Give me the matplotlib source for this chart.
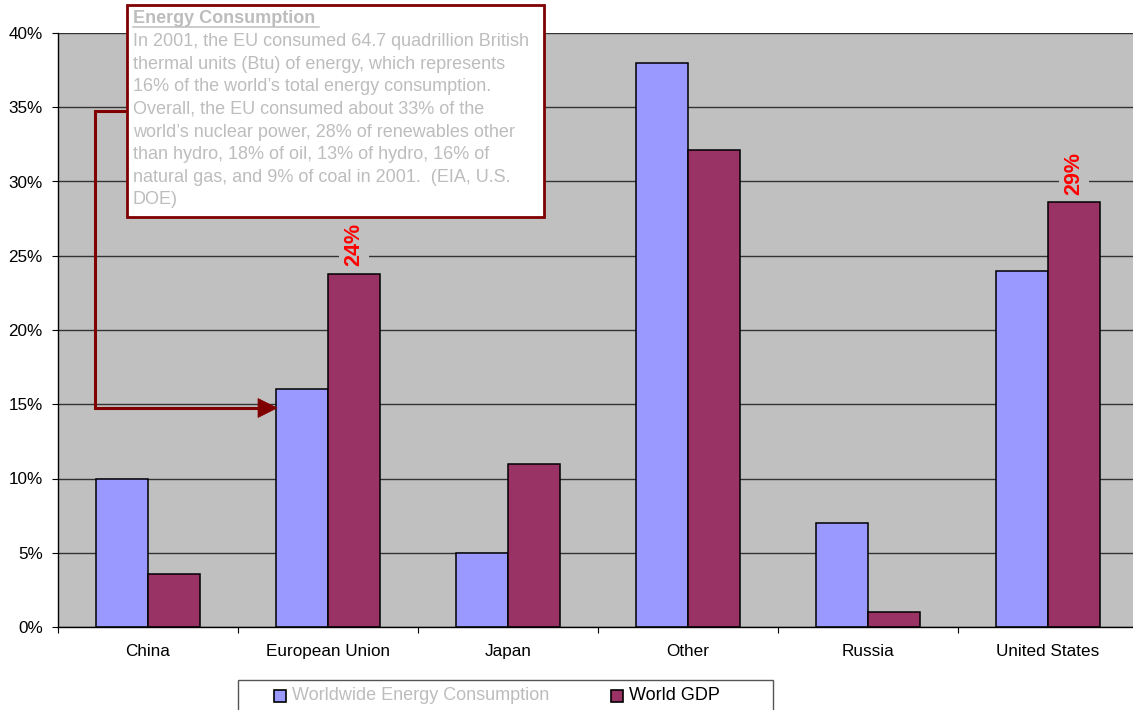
import matplotlib
matplotlib.use("Agg")
import matplotlib.pyplot as plt
from matplotlib.patches import Rectangle, Polygon
from matplotlib.lines import Line2D
import numpy as np

plt.rcParams['font.family'] = ['Liberation Sans', 'DejaVu Sans']

# ---- data ----
regions = ["China", "European Union", "Japan", "Other", "Russia", "United States"]
energy_share = [10.0, 16.0, 5.0, 38.0, 7.0, 24.0]
gdp_share = [3.6, 23.8, 11.0, 32.1, 1.0, 28.6]
series_names = ["Worldwide Energy Consumption", "World GDP"]
labelled_gdp = ["European Union", "United States"]
yticks = list(range(0, 45, 5))

note_title = "Energy Consumption"
note_lines = [
    "In 2001, the EU consumed 64.7 quadrillion British",
    "thermal units (Btu) of energy, which represents",
    "16% of the world\u2019s total energy consumption.",
    "Overall, the EU consumed about 33% of the",
    "world\u2019s nuclear power, 28% of renewables other",
    "than hydro, 18% of oil, 13% of hydro, 16% of",
    "natural gas, and 9% of coal in 2001.  (EIA, U.S.",
    "DOE)",
]

# ---- styling ----
C_ENERGY = "#9999FF"
C_GDP = "#993366"
C_BG = "#C0C0C0"
C_NOTE = "#BDBDBD"
C_DARKRED = "#800000"
FS_TICK = 12.3
FS_NOTE = 13.0
FS_LEG = 13.0

W, H = 1133, 710
fig = plt.figure(figsize=(W / 100, H / 100), dpi=100)
ax = fig.add_axes([58 / W, 1 - 627 / H, 1080 / W, 594 / H])
ax.set_facecolor(C_BG)

x = np.arange(len(regions))
bw = 52 / 180
b1 = ax.bar(x - bw / 2, energy_share, bw, color=C_ENERGY, edgecolor="black",
            linewidth=1.1, zorder=3)
b2 = ax.bar(x + bw / 2, gdp_share, bw, color=C_GDP, edgecolor="black",
            linewidth=1.1, zorder=3)

ax.set_xlim(-0.5, len(regions) - 0.5)
ax.set_ylim(0, 40)
ax.set_yticks(yticks)
ax.set_yticklabels([f"{v}%" for v in yticks])
ax.set_xticks(x)
ax.set_xticklabels(regions)
ax.set_xticks(np.arange(-0.5, len(regions)), minor=True)
ax.tick_params(axis="x", which="major", length=0, pad=12, labelsize=FS_TICK)
ax.tick_params(axis="x", which="minor", length=4, direction="out", width=0.8)
ax.tick_params(axis="y", length=4, direction="out", width=0.8, pad=7, labelsize=FS_TICK)
ax.yaxis.grid(True, color="#333333", linewidth=1.0, zorder=1)
ax.set_axisbelow(True)
for side in ("top", "right"):
    ax.spines[side].set_visible(False)
for side in ("left", "bottom"):
    ax.spines[side].set_color("black")
    ax.spines[side].set_linewidth(1.0)
    ax.spines[side].set_zorder(4)

# value labels on selected GDP bars
for i, name in enumerate(regions):
    if name in labelled_gdp:
        v = gdp_share[i]
        ax.annotate(f"{v:.0f}%", xy=(x[i] + bw / 2, v), xytext=(0, 5.5),
                    textcoords="offset points", rotation=90, ha="center",
                    va="bottom", color="red", fontsize=15.5, fontweight="bold",
                    bbox=dict(boxstyle="square,pad=0.2", fc=C_BG, ec="none"),
                    zorder=5)


def fpx(px, py):
    return px / W, 1 - py / H


# ---- callout note ----
bx0, by0, bx1, by1 = 127, 5, 544, 217
fig.add_artist(Rectangle(fpx(bx0, by1), (bx1 - bx0) / W, (by1 - by0) / H,
                         transform=fig.transFigure, facecolor="white",
                         edgecolor=C_DARKRED, linewidth=2.0, zorder=10))
t = fig.text(*fpx(133, 18.5), note_title, fontsize=FS_NOTE, fontweight="bold",
             color=C_NOTE, va="center", ha="left", zorder=11)
for k, line in enumerate(note_lines):
    fig.text(*fpx(133, 41.7 + 22.6 * k), line, fontsize=FS_NOTE, color=C_NOTE,
             va="center", ha="left", zorder=11)

fig.canvas.draw()
ext = t.get_window_extent()
u_y = 1 - 26.5 / H
fig.add_artist(Line2D([ext.x0 / W, (ext.x1 + 4) / W], [u_y, u_y],
                      transform=fig.transFigure, color=C_NOTE, lw=1.1, zorder=11))

# connector arrow from the note to the EU bar
path_px = [(bx0, 111), (95, 111), (95, 408), (260, 408)]
xs, ys = zip(*[fpx(px, py) for px, py in path_px])
fig.add_artist(Line2D(xs, ys, transform=fig.transFigure, color=C_DARKRED,
                      lw=2.2, solid_joinstyle="miter", zorder=9))
head = [fpx(258, 398.5), fpx(258, 417.5), fpx(277, 408)]
fig.add_artist(Polygon(head, closed=True, transform=fig.transFigure,
                       facecolor=C_DARKRED, edgecolor=C_DARKRED, lw=0.5, zorder=9))

# ---- legend ----
lx0, ly0, lx1, ly1 = 238, 680, 773, 725
fig.add_artist(Rectangle(fpx(lx0, ly1), (lx1 - lx0) / W, (ly1 - ly0) / H,
                         transform=fig.transFigure, facecolor="white",
                         edgecolor="#555555", linewidth=1.0, zorder=10))
entries = [(series_names[0], C_ENERGY, 274, C_NOTE),
           (series_names[1], C_GDP, 611, "black")]
for label, col, px, tcol in entries:
    s = 12
    fig.add_artist(Rectangle(fpx(px, 696 + s / 2), s / W, s / H,
                             transform=fig.transFigure, facecolor=col,
                             edgecolor="black", linewidth=1.2, zorder=11))
    fig.text(*fpx(px + s + 6, 696), label, fontsize=FS_LEG, color=tcol,
             va="center", ha="left", zorder=11)

fig.savefig("out.png", dpi=100)
